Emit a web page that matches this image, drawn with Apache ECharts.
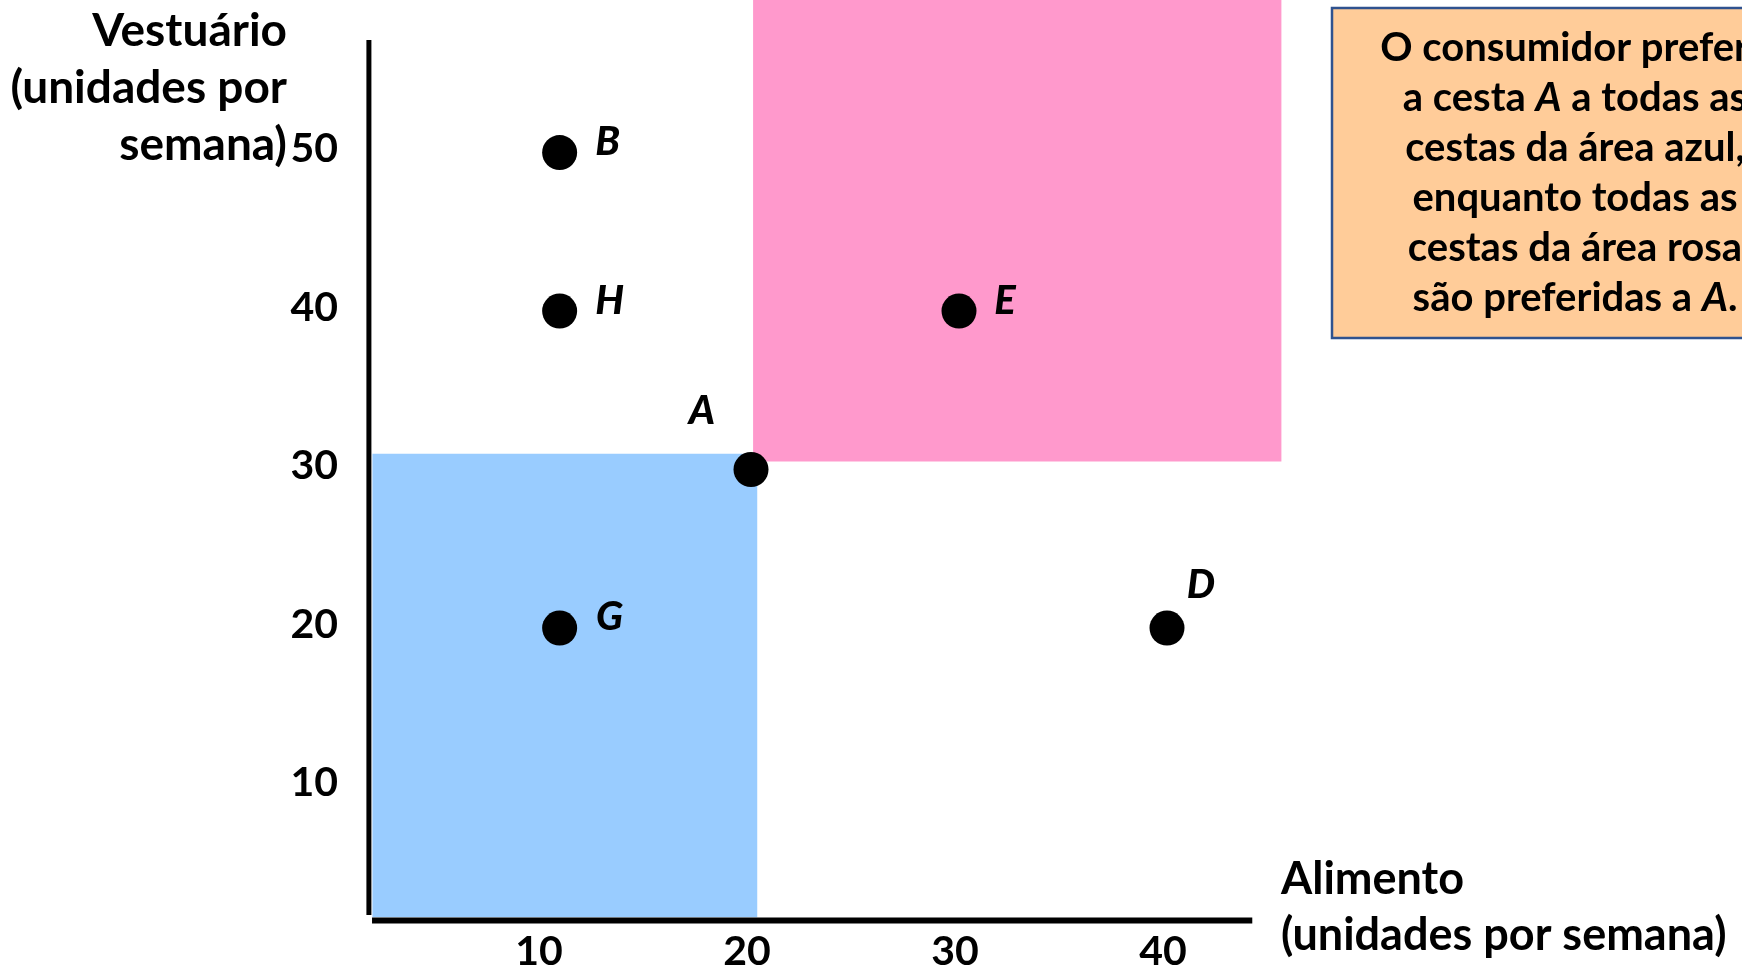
<!DOCTYPE html>
<html>
<head>
<meta charset="utf-8">
<title>Cestas de mercado</title>
<script src="https://cdn.jsdelivr.net/npm/echarts@6/dist/echarts.min.js"></script>
<style>
  html, body { margin: 0; padding: 0; background: #ffffff; }
  #chart { width: 1742px; height: 972px; }
</style>
</head>
<body>
<div id="chart"></div>
<script>
// Market baskets: food (x) and clothing (y), units per week
const bundleNames = ['A', 'B', 'D', 'E', 'G', 'H'];
const foodUnits = [20, 10.8, 40, 30, 10.8, 10.8];
const clothingUnits = [30, 50, 20, 40, 20, 40];

// Tick labels on both axes
const foodTicks = [10, 20, 30, 40];
const clothingTicks = [10, 20, 30, 40, 50];

// Shaded regions relative to basket A: [xFrom, yFrom, xTo, yTo]
const lessPreferredArea = [1.8, 1.75, 20.3, 31.0];
const morePreferredArea = [20.1, 30.5, 45.5, 59.7];

// Axis line extents
const verticalAxisLine = [[1.63, 1.9], [1.63, 57.1]];
const horizontalAxisLine = [[1.78, 1.55], [44.1, 1.55]];

const FONT = 'Lato, "Open Sans", sans-serif';

// label placement for each basket letter, relative to its dot
const letterOffsets = {
  A: [-49, -58], B: [48, -10], D: [34, -43], E: [46, -10], G: [50, -11], H: [50, -10]
};

const chart = echarts.init(document.getElementById('chart'), null, { renderer: 'canvas' });

function areaSeries(name, bounds, color) {
  return {
    name: name,
    type: 'custom',
    silent: true,
    z: 1,
    clip: false,
    data: [bounds],
    renderItem: function (params, api) {
      const p0 = api.coord([api.value(0), api.value(3)]);
      const p1 = api.coord([api.value(2), api.value(1)]);
      return {
        type: 'rect',
        shape: { x: p0[0], y: p0[1], width: p1[0] - p0[0], height: p1[1] - p0[1] },
        style: { fill: color }
      };
    }
  };
}

const option = {
  backgroundColor: '#ffffff',
  animation: false,
  grid: { left: 335, right: 159, top: 0, bottom: 18, containLabel: false },
  xAxis: {
    type: 'value',
    min: 0,
    max: 60,
    axisLine: { show: false },
    axisTick: { show: false },
    splitLine: { show: false },
    axisLabel: {
      customValues: foodTicks,
      margin: -14,
      padding: [0, 8, 0, 0],
      color: '#000',
      fontFamily: FONT,
      fontWeight: 'bold',
      fontSize: 41
    }
  },
  yAxis: {
    type: 'value',
    min: 0,
    max: 59.625,
    axisLine: { show: false },
    axisTick: { show: false },
    splitLine: { show: false },
    axisLabel: {
      customValues: clothingTicks,
      margin: -3,
      verticalAlign: 'bottom',
      lineHeight: 7,
      color: '#000',
      fontFamily: FONT,
      fontWeight: 'bold',
      fontSize: 41
    }
  },
  series: [
    areaSeries('Área azul', lessPreferredArea, '#99CCFF'),
    areaSeries('Área rosa', morePreferredArea, '#FF99CC'),
    {
      name: 'Eixo vertical',
      type: 'line',
      data: verticalAxisLine,
      symbol: 'none',
      silent: true,
      z: 3,
      lineStyle: { color: '#000', width: 5, opacity: 1 }
    },
    {
      name: 'Eixo horizontal',
      type: 'line',
      data: horizontalAxisLine,
      symbol: 'none',
      silent: true,
      z: 3,
      lineStyle: { color: '#000', width: 6, opacity: 1 }
    },
    {
      name: 'Cestas',
      type: 'scatter',
      z: 5,
      symbol: 'circle',
      symbolSize: 35,
      itemStyle: { color: '#000', opacity: 1 },
      emphasis: { disabled: true },
      data: bundleNames.map(function (n, i) {
        return {
          name: n,
          value: [foodUnits[i], clothingUnits[i]],
          label: { offset: letterOffsets[n] }
        };
      }),
      label: {
        show: true,
        position: 'inside',
        formatter: '{b}',
        color: '#000',
        opacity: 1,
        fontFamily: FONT,
        fontStyle: 'italic',
        fontWeight: 900,
        fontSize: 40
      }
    }
  ],
  graphic: [
    {
      type: 'text',
      x: 287,
      y: 3,
      style: {
        text: 'Vestuário\n(unidades por\nsemana)',
        align: 'right',
        verticalAlign: 'top',
        fill: '#000',
        font: 'bold 46px ' + FONT,
        lineHeight: 57
      }
    },
    {
      type: 'text',
      x: 1281,
      y: 851,
      style: {
        text: 'Alimento\n(unidades por semana)',
        align: 'left',
        verticalAlign: 'top',
        fill: '#000',
        font: 'bold 45px ' + FONT,
        lineHeight: 56
      }
    },
    {
      type: 'rect',
      shape: { x: 1332, y: 8, width: 520, height: 330 },
      style: { fill: '#FFCC99', stroke: '#2F528F', lineWidth: 2.5 },
      z: 10
    },
    {
      type: 'text',
      x: 1575,
      y: 23,
      z: 11,
      style: {
        text: 'O consumidor prefere\na cesta {i|A} a todas as\ncestas da área azul,\nenquanto todas as\ncestas da área rosa\nsão preferidas a {i|A}.',
        align: 'center',
        verticalAlign: 'top',
        fill: '#000',
        font: 'bold 40px ' + FONT,
        lineHeight: 50,
        rich: {
          i: { font: 'italic bold 40px ' + FONT, lineHeight: 50, fill: '#000' }
        }
      }
    }
  ]
};

chart.setOption(option);
</script>
</body>
</html>
